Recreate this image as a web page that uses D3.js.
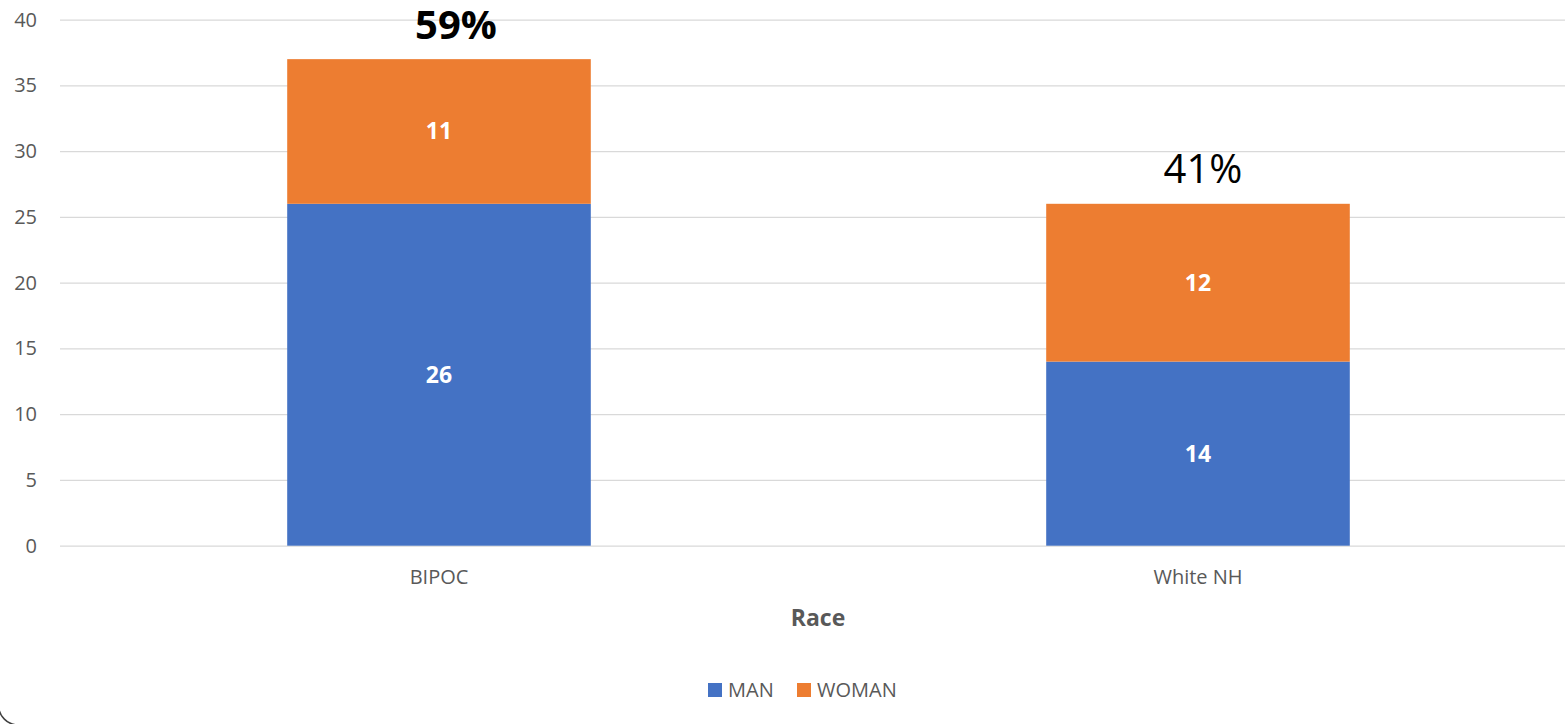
<!DOCTYPE html>
<html>
<head>
<meta charset="utf-8">
<script src="https://cdn.jsdelivr.net/npm/d3@7"></script>
<style>
  body { margin: 0; background: #fff; }
  text { font-family: "Open Sans", sans-serif; }
</style>
</head>
<body>
<div id="chart"></div>
<script>
// data ///////////////////////////
var races = ['BIPOC', 'White NH'];
var series = ['MAN', 'WOMAN'];
var manCounts = [26, 14];
var womanCounts = [11, 12];
var shareLabels = ['59%', '41%'];
var yTicks = [0, 5, 10, 15, 20, 25, 30, 35, 40];

draw();

function draw() {
    "use strict";
    var width = 1565;
    var height = 724;
    var colors = { MAN: '#4472C4', WOMAN: '#ED7D31' };

    var svg = d3.select('#chart')
        .append('svg')
        .attr('width', width)
        .attr('height', height);

    // stacked rows
    var rows = races.map(function(r, i) {
        return { race: r, MAN: manCounts[i], WOMAN: womanCounts[i], share: shareLabels[i], idx: i };
    });
    var stacked = d3.stack().keys(series)(rows);

    var x = d3.scaleBand()
        .domain(races)
        .range([59.5, 1577.5])
        .paddingInner(0.6)
        .paddingOuter(0.3);

    var y = d3.scaleLinear()
        .domain([0, 40])
        .range([545.7, 19.7]);

    // gridlines + y labels
    var yAxis = svg.append('g')
        .attr('transform', 'translate(60,0)')
        .call(d3.axisLeft(y).tickValues(yTicks).tickSize(-1520).tickPadding(23));
    yAxis.select('.domain').remove();
    yAxis.selectAll('.tick line')
        .attr('stroke', '#d9d9d9')
        .attr('stroke-width', 1.3);
    yAxis.selectAll('.tick text')
        .attr('fill', '#595959')
        .style('font-size', '20px')
        .style('font-family', '"Open Sans", sans-serif');

    // bars
    var layer = svg.selectAll('.layer')
        .data(stacked)
        .enter()
        .append('g')
        .attr('class', 'layer')
        .attr('fill', function(d) { return colors[d.key]; });

    layer.selectAll('rect')
        .data(function(d) { return d; })
        .enter()
        .append('rect')
        .attr('x', function(d) { return x(d.data.race); })
        .attr('y', function(d) { return y(d[1]); })
        .attr('width', x.bandwidth())
        .attr('height', function(d) { return y(d[0]) - y(d[1]); });

    // value labels
    layer.selectAll('text')
        .data(function(d) { return d; })
        .enter()
        .append('text')
        .attr('x', function(d) { return x(d.data.race) + x.bandwidth() / 2; })
        .attr('y', function(d) { return y((d[0] + d[1]) / 2) + 8; })
        .attr('text-anchor', 'middle')
        .attr('fill', '#fff')
        .style('font-size', '23px')
        .style('font-weight', 'bold')
        .text(function(d) { return d[1] - d[0]; });

    // share labels above bars (hand placed text boxes)
    var shareDx = [17, 5];
    var shareDy = [-20, -21];
    var shareWeight = ['bold', 'normal'];
    svg.selectAll('.share')
        .data(rows)
        .enter()
        .append('text')
        .attr('class', 'share')
        .attr('x', function(d) { return x(d.race) + x.bandwidth() / 2 + shareDx[d.idx]; })
        .attr('y', function(d) { return y(d.MAN + d.WOMAN) + shareDy[d.idx]; })
        .attr('text-anchor', 'middle')
        .attr('fill', '#000')
        .style('font-size', '40px')
        .style('font-weight', function(d) { return shareWeight[d.idx]; })
        .text(function(d) { return d.share; });

    // x labels
    svg.selectAll('.xlab')
        .data(races)
        .enter()
        .append('text')
        .attr('class', 'xlab')
        .attr('x', function(d) { return x(d) + x.bandwidth() / 2; })
        .attr('y', 584)
        .attr('text-anchor', 'middle')
        .attr('fill', '#595959')
        .style('font-size', '20px')
        .text(function(d) { return d; });

    // axis title
    svg.append('text')
        .attr('x', 818)
        .attr('y', 626)
        .attr('text-anchor', 'middle')
        .attr('fill', '#595959')
        .style('font-size', '23px')
        .style('font-weight', 'bold')
        .text('Race');

    // legend
    var legendX = [708, 797];
    var legend = svg.selectAll('.legend')
        .data(series)
        .enter()
        .append('g')
        .attr('class', 'legend')
        .attr('transform', function(d, i) { return 'translate(' + legendX[i] + ',683)'; });
    legend.append('rect')
        .attr('width', 14)
        .attr('height', 14)
        .attr('fill', function(d) { return colors[d]; });
    legend.append('text')
        .attr('x', 20)
        .attr('y', 14)
        .attr('fill', '#595959')
        .style('font-size', '20px')
        .text(function(d) { return d; });

    // chart border (rounded corner)
    svg.append('rect')
        .attr('x', -1.5)
        .attr('y', -20)
        .attr('width', 1620)
        .attr('height', 745)
        .attr('rx', 20)
        .attr('fill', 'none')
        .attr('stroke', '#404040')
        .attr('stroke-width', 1.5);
}
</script>
</body>
</html>
